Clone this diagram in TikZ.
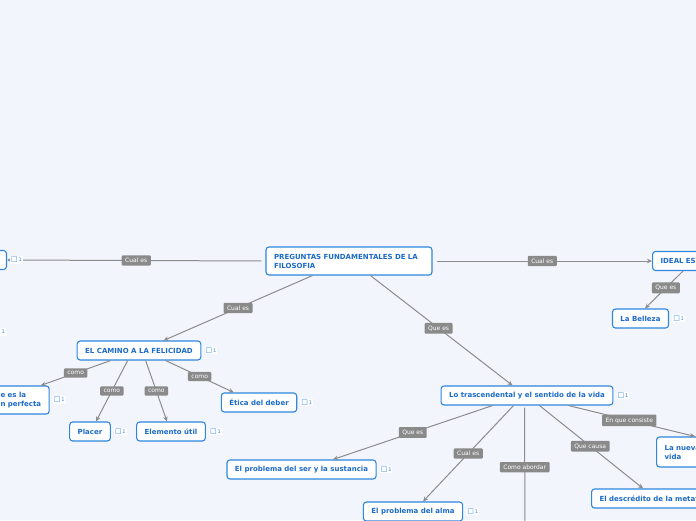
\documentclass[tikz,border=0pt]{standalone}
\usepackage{fontspec}
\setmainfont{DejaVu Sans}
\usepackage{xcolor}
\usetikzlibrary{arrows.meta,positioning}
\definecolor{bgblue}{HTML}{F3F5FD}
\definecolor{mapblue}{HTML}{2E86DE}
\definecolor{mapink}{HTML}{1B6AC9}
\definecolor{lblgray}{HTML}{8A8A8A}
\definecolor{linegray}{HTML}{8C8C8C}

\begin{document}
\begin{tikzpicture}[
    x=1pt, y=-1pt,
    topic/.style={draw=mapblue, line width=1.1pt, rounded corners=3pt, fill=white,
      text=mapink, font=\fontsize{7}{9}\selectfont\bfseries, inner xsep=8pt,
      minimum height=19pt, align=left},
    lbl/.style={fill=lblgray, text=white, font=\fontsize{6}{6.5}\selectfont,
      rounded corners=1pt, inner xsep=3.5pt, inner ysep=2.8pt},
    note/.style={fill=white, text=mapblue, font=\fontsize{5}{6}\selectfont, inner sep=1pt},
    arrow/.style={-{Stealth[length=5pt,width=4.5pt]}, line width=1pt, linegray}
  ]
    \fill[bgblue] (0,0) rectangle (696,520);
    \useasboundingbox (0,0) rectangle (696,520);
    \clip (0,0) rectangle (696,520);

    \node[topic, text width=150pt, minimum height=28pt] (root) at (349,261)
      {PREGUNTAS FUNDAMENTALES DE LA\\FILOSOFIA};
    \node[topic, anchor=east, minimum width=60pt] (left) at (7,260) {};
    \node[topic, anchor=west, text width=60pt] (ideal) at (652,261) {IDEAL ES};
    \node[topic] (belleza) at (640.5,318.5) {La Belleza};

    \node[topic] (camino) at (139,350.5) {EL CAMINO A LA FELICIDAD};
    \node[topic, anchor=west, minimum height=28pt] (perfecta) at (-8,400) {e es la\\n perfecta};
    \node[topic] (placer) at (90,431.5) {Placer};
    \node[topic] (util) at (171,431.5) {Elemento útil};
    \node[topic] (deber) at (259,402.5) {Ética del deber};

    \node[topic] (trasc) at (527,395.5) {Lo trascendental y el sentido de la vida};
    \node[topic] (ser) at (301.5,469.5) {El problema del ser y la sustancia};
    \node[topic] (alma) at (413,511.5) {El problema del alma};
    \coordinate (abordar) at (525,540);
    \node[topic, anchor=west] (metaf) at (591,498.5) {El descrédito de la metafísica};
    \node[topic, anchor=west, text width=50pt, minimum height=30pt] (nueva) at (656,452)
      {La nueva\\vida};

    \draw[arrow, shorten <=4pt] (root.west) -- (left.east) node[lbl, midway] {Cual es};
    \draw[arrow, shorten <=4pt] (root.east) -- (ideal.west) node[lbl, midway] {Cual es};
    \draw[arrow] ([xshift=31pt]ideal.south west) -- ([xshift=4.5pt]belleza.north)
      node[lbl, pos=0.45] {Que es};
    \draw[arrow] ([xshift=47pt]root.south west) -- ([xshift=87pt]camino.north west)
      node[lbl, midway] {Cual es};
    \draw[arrow] ([xshift=105pt]root.south west) -- ([xshift=72pt]trasc.north west)
      node[lbl, pos=0.48] {Que es};

    \draw[arrow] ([xshift=34pt]camino.south west) -- ([xshift=-9pt]perfecta.north east)
      node[lbl, midway] {como};
    \draw[arrow] ([xshift=51pt]camino.south west) -- ([xshift=6pt]placer.north)
      node[lbl, midway] {como};
    \draw[arrow] ([xshift=69pt]camino.south west) -- ([xshift=-4pt]util.north)
      node[lbl, midway] {como};
    \draw[arrow] ([xshift=89pt]camino.south west) -- ([xshift=13pt]deber.north west)
      node[lbl, midway] {como};

    \draw[arrow] ([xshift=52pt]trasc.south west) -- ([xshift=31.5pt]ser.north)
      node[lbl, midway] {Que es};
    \draw[arrow] ([xshift=73pt]trasc.south west) -- ([xshift=10pt]alma.north)
      node[lbl, midway] {Cual es};
    \draw[arrow] ([xshift=84pt,yshift=-2pt]trasc.south west) -- (abordar)
      node[lbl, pos=0.45] {Como abordar};
    \draw[arrow] ([xshift=99pt]trasc.south west) -- ([xshift=52pt]metaf.north west)
      node[lbl, pos=0.49] {Que causa};
    \draw[arrow] ([xshift=128pt]trasc.south west) -- ([xshift=39pt]nueva.north west)
      node[lbl, pos=0.48] {En que consiste};

    \node[note, right=3pt of left] {{\fontsize{7}{7}\selectfont □}\,1};
    \node[note, anchor=east] at (6,332) {{\fontsize{7}{7}\selectfont □}\,1};
    \node[note, right=3pt of belleza] {{\fontsize{7}{7}\selectfont □}\,1};
    \node[note, right=3pt of camino] {{\fontsize{7}{7}\selectfont □}\,1};
    \node[note, right=3pt of perfecta] {{\fontsize{7}{7}\selectfont □}\,1};
    \node[note, right=3pt of placer] {{\fontsize{7}{7}\selectfont □}\,1};
    \node[note, right=3pt of util] {{\fontsize{7}{7}\selectfont □}\,1};
    \node[note, right=3pt of deber] {{\fontsize{7}{7}\selectfont □}\,1};
    \node[note, right=3pt of trasc] {{\fontsize{7}{7}\selectfont □}\,1};
    \node[note, right=3pt of ser] {{\fontsize{7}{7}\selectfont □}\,1};
    \node[note, right=3pt of alma] {{\fontsize{7}{7}\selectfont □}\,1};
  \end{tikzpicture}
\end{document}
